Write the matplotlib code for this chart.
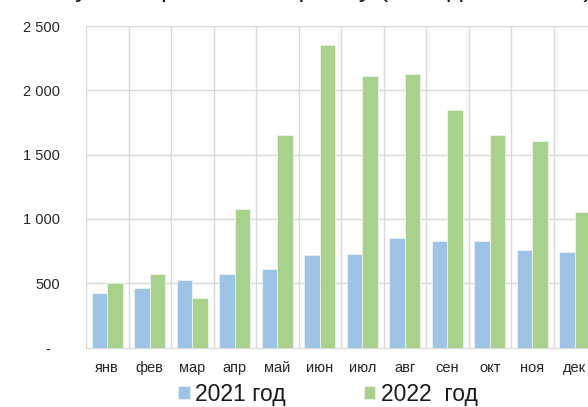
import numpy as np
import matplotlib.pyplot as plt
from matplotlib.ticker import FuncFormatter

months = ['янв', 'фев', 'мар', 'апр', 'май', 'июн', 'июл', 'авг', 'сен', 'окт', 'ноя', 'дек']
y2021 = [420, 460, 525, 575, 610, 720, 730, 850, 825, 830, 755, 740]
y2022 = [500, 570, 385, 1075, 1650, 2350, 2110, 2130, 1845, 1655, 1605, 1055]
title = 'Сумма прибыли по рынку (тыс. долл. США)'

plt.rcParams['font.family'] = ['Liberation Sans', 'DejaVu Sans']

fig = plt.figure(figsize=(5.88, 4.07), dpi=100)
# plot area runs past the right edge, as in the cropped original
ax = fig.add_axes([86 / 588, 1 - 347.5 / 407, 510 / 588, 321.5 / 407])

x = np.arange(len(months))
w = 0.365
ax.bar(x - w / 2, y2021, w, color='#9DC3E6', edgecolor='#EAF2FA', linewidth=0.6,
       label='2021 год', zorder=2)
ax.bar(x + w / 2, y2022, w, color='#A9D18E', edgecolor='#EEF6E8', linewidth=0.6,
       label='2022  год', zorder=2)

ax.set_xlim(-0.5, 11.5)
ax.set_ylim(0, 2500)
ax.set_yticks(range(0, 2501, 500))
ax.yaxis.set_major_formatter(FuncFormatter(
    lambda v, p: f'{int(v):,}'.replace(',', ' ') if v else '-  '))
ax.set_xticks(x, months)
ax.set_xticks(np.arange(-0.5, 12, 1), minor=True)
ax.grid(which='minor', axis='x', color='#D9D9D9', lw=1.0, zorder=0)
ax.grid(which='major', axis='y', color='#D9D9D9', lw=1.0, zorder=0)
ax.grid(which='major', axis='x', visible=False)
ax.tick_params(which='both', length=0)
ax.tick_params(axis='y', pad=19, labelsize=10.5, labelcolor='#262626')
ax.tick_params(axis='x', pad=10, labelsize=10.5, labelcolor='#262626')
for s in ['top', 'right', 'left']:
    ax.spines[s].set_visible(False)
ax.spines['bottom'].set_color('#D9D9D9')
ax.set_axisbelow(True)

fig.legend(loc='center', bbox_to_anchor=(328 / 588, 1 - 394 / 407), ncol=2,
           frameon=False, fontsize=16.5, handlelength=0.5, handleheight=0.5,
           handletextpad=0.25, columnspacing=3.4, labelcolor='#1a1a1a')

# title is cut off at the top in the original, only the descenders show
fig.text(56 / 588, 1 + 2.5 / 407, title, ha='left', va='baseline', fontsize=19,
         color='#1a1a1a')

fig.savefig('out.png', dpi=100)
